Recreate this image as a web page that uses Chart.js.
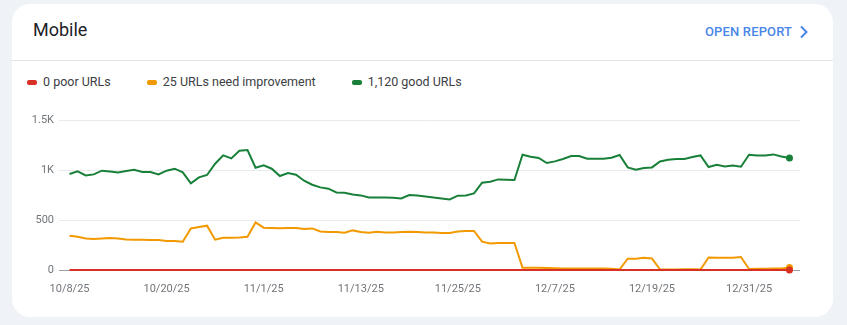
<!DOCTYPE html>
<html>
<head>
<meta charset="utf-8">
<script src="https://cdn.jsdelivr.net/npm/chart.js@4/dist/chart.umd.min.js"></script>
<style>
  html, body { margin: 0; padding: 0; width: 847px; height: 325px; overflow: hidden; background: #eff2f6; font-family: Roboto, "Noto Sans", sans-serif; }
  .card { position: absolute; left: 12px; top: 4px; width: 821px; height: 313px; background: #fff; border-radius: 18px; overflow: hidden; }
  .title { position: absolute; left: 21px; top: 15px; font-size: 18px; line-height: 22px; color: #202124; }
  .open { position: absolute; left: 693px; top: 20px; font-size: 13px; line-height: 16px; font-weight: 500; letter-spacing: 0.15px; color: #4a86e8; }
  .chev { position: absolute; left: 787px; top: 21px; }
  .divider { position: absolute; left: 0; top: 56px; width: 100%; height: 1px; background: #e3e3e3; }
  .legend { position: absolute; left: 15px; top: 70px; display: flex; gap: 36px; font-size: 12.5px; line-height: 16px; color: #3c4043; }
  .item { display: flex; align-items: center; gap: 6px; }
  .dash { width: 10px; height: 5px; border-radius: 2px; }
  .plot { position: absolute; left: 0; top: 101px; width: 800px; height: 200px; }
</style>
</head>
<body>
<div class="card">
  <div class="title">Mobile</div>
  <div class="open">OPEN REPORT</div>
  <svg class="chev" width="10" height="14" viewBox="0 0 10 14"><polyline points="2,1.5 7.5,7 2,12.5" fill="none" stroke="#4a86e8" stroke-width="2"/></svg>
  <div class="divider"></div>
  <div class="legend" id="legend"></div>
  <div class="plot"><canvas id="chart"></canvas></div>
</div>
<script>
// Daily URL counts, 10/8/25 through 1/5/26
const poorUrls = [
  0,0,0,0,0,0,0,0,0,0, 0,0,0,0,0,0,0,0,0,0,
  0,0,0,0,0,0,0,0,0,0, 0,0,0,0,0,0,0,0,0,0,
  0,0,0,0,0,0,0,0,0,0, 0,0,0,0,0,0,0,0,0,0,
  0,0,0,0,0,0,0,0,0,0, 0,0,0,0,0,0,0,0,0,0,
  0,0,0,0,0,0,0,0,0,0
];
const needsImprovementUrls = [
  343,333,316,310,316,320,316,306,303,303,
  300,300,290,290,283,416,430,443,303,323,
  323,326,333,476,423,420,418,421,420,410,
  416,386,380,380,373,396,380,373,383,376,
  376,380,383,380,376,376,370,370,386,390,
  390,283,266,270,270,270,23,23,23,20,
  18,15,15,15,15,15,15,12,5,113,
  113,123,116,5,6,6,7,7,5,126,
  123,123,123,130,10,12,13,14,15,25
];
const goodUrls = [
  960,986,946,956,993,986,976,990,1003,980,
  980,956,993,1013,976,866,926,950,1063,1146,
  1116,1193,1200,1023,1046,1013,940,970,953,893,
  853,826,813,776,773,756,746,726,726,726,
  723,716,750,746,736,726,716,706,743,746,
  766,873,883,906,903,900,1153,1133,1120,1070,
  1086,1110,1140,1140,1113,1113,1113,1123,1150,1026,
  1003,1020,1026,1086,1103,1110,1110,1130,1146,1030,
  1053,1036,1046,1033,1153,1146,1146,1156,1136,1120
];

// Axis ticks
const xTickDays = [0, 12, 24, 36, 48, 60, 72, 84];
const xTickLabels = ['10/8/25', '10/20/25', '11/1/25', '11/13/25', '11/25/25', '12/7/25', '12/19/25', '12/31/25'];
const yTickValues = [0, 500, 1000, 1500];
const yTickLabels = ['0', '500', '1K', '1.5K'];

const dayIndex = goodUrls.map((_, i) => i);
const lastOf = arr => arr[arr.length - 1];
const fmt = n => n.toLocaleString('en-US');

const series = [
  { name: 'poor URLs', data: poorUrls, color: '#d93025', legend: v => `${fmt(v)} poor URLs` },
  { name: 'need improvement', data: needsImprovementUrls, color: '#f29900', legend: v => `${fmt(v)} URLs need improvement` },
  { name: 'good URLs', data: goodUrls, color: '#188038', legend: v => `${fmt(v)} good URLs` }
];

// HTML legend
const legendEl = document.getElementById('legend');
series.forEach(s => {
  const item = document.createElement('div');
  item.className = 'item';
  const dash = document.createElement('span');
  dash.className = 'dash';
  dash.style.background = s.color;
  const txt = document.createElement('span');
  txt.textContent = s.legend(lastOf(s.data));
  item.appendChild(dash);
  item.appendChild(txt);
  legendEl.appendChild(item);
});

const lastIndex = dayIndex.length - 1;
const endDot = ctx => (ctx.dataIndex === lastIndex ? 3.5 : 0);

new Chart(document.getElementById('chart'), {
  type: 'line',
  data: {
    labels: dayIndex,
    datasets: series.map(s => ({
      label: s.name,
      data: s.data,
      borderColor: s.color,
      backgroundColor: s.color,
      borderWidth: 2,
      tension: 0,
      pointRadius: endDot,
      pointHoverRadius: endDot,
      pointBorderWidth: 0,
      clip: false
    }))
  },
  options: {
    responsive: true,
    maintainAspectRatio: false,
    animation: false,
    layout: { padding: { top: 15, right: 12, bottom: 0, left: 0 } },
    plugins: { legend: { display: false }, tooltip: { enabled: false } },
    scales: {
      x: {
        type: 'linear',
        min: -1.3,
        max: 90.3,
        grid: { display: false, drawTicks: false },
        border: { display: false },
        afterBuildTicks: scale => { scale.ticks = xTickDays.map(v => ({ value: v })); },
        afterFit: scale => { scale.height = 35; },
        ticks: {
          autoSkip: false,
          maxRotation: 0,
          padding: 13,
          color: '#70757a',
          font: { family: 'Roboto', size: 11 },
          callback: v => xTickLabels[xTickDays.indexOf(v)]
        }
      },
      y: {
        min: 0,
        max: 1500,
        afterBuildTicks: scale => { scale.ticks = yTickValues.map(v => ({ value: v })); },
        afterFit: scale => { scale.width = 47; },
        grid: {
          drawTicks: false,
          color: ctx => (ctx.tick && ctx.tick.value === 0 ? '#9aa0a6' : '#e8eaed'),
          lineWidth: 1
        },
        border: { display: false },
        ticks: {
          padding: 5,
          color: '#70757a',
          font: { family: 'Roboto', size: 11 },
          callback: v => yTickLabels[yTickValues.indexOf(v)]
        }
      }
    }
  }
});
</script>
</body>
</html>
